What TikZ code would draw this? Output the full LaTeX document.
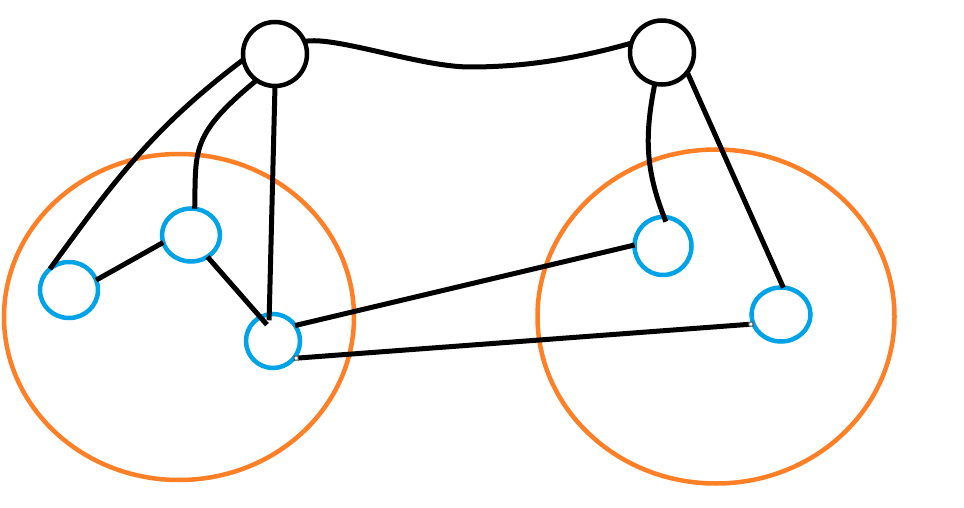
\documentclass[tikz,border=0pt]{standalone}
\usepackage{xcolor}
\usepackage{tikz}
\usetikzlibrary{arrows.meta,shapes.geometric}

\definecolor{wheelorange}{HTML}{FF7F27}
\definecolor{jointblue}{HTML}{00A2E8}

\begin{document}
\begin{tikzpicture}[
x=1pt,y=1pt,
hub/.style={draw,circle,line width=4.5pt,minimum size=64pt,inner sep=0pt,outer sep=0pt},
wheel/.style={draw=wheelorange,ellipse,line width=4.5pt,inner sep=0pt,outer sep=0pt},
joint/.style={draw=jointblue,ellipse,line width=4.5pt,inner sep=0pt,outer sep=0pt},
link/.style={line width=5pt},
handle/.style={link,{Square[length=5pt,width=5pt,line width=1pt,fill=white,color=black!70]}-{Square[length=5pt,width=5pt,line width=1pt,fill=white,color=black!70]}}
]
\useasboundingbox (0,0) rectangle (964,-508);
% wheels
\node[wheel,minimum width=350pt,minimum height=326pt] (wheelL) at (179,-317) {};
\node[wheel,minimum width=357pt,minimum height=334pt] (wheelR) at (716,-316.5) {};
% hubs and joints
\node[hub] (hubL) at (275,-54) {};
\node[hub] (hubR) at (662,-52.5) {};
\node[joint,minimum width=58pt,minimum height=56pt] (j1) at (69,-290) {};
\node[joint,minimum width=58pt,minimum height=53pt] (j2) at (191,-235) {};
\node[joint,minimum width=54pt,minimum height=54pt] (j3) at (273,-341) {};
\node[joint,minimum width=57pt,minimum height=58pt] (j4) at (663,-246) {};
\node[joint,minimum width=59pt,minimum height=54pt] (j5) at (781,-314.5) {};
% links
\draw[link] (hubL.23) .. controls +(30,6) and +(-50,0) .. (470,-67)
  .. controls +(60,0) and +(-50,-14) .. (hubR.163);
\draw[link] (hubL.190) to[out=217,in=54] (j1.132);
\draw[link] (hubL.235) .. controls (190,-135) and (196,-150) .. (j2.82);
\draw[link,shorten >=-6pt] (hubL.270) -- (j3.98);
\draw[link] (j1.20) -- (j2.195);
\draw[link,shorten >=-10pt] (j2.-53) -- (j3.118);
\draw[link] (j3.35) -- (j4.178);
\draw[handle] (j3.-40) -- (j5.199);
\draw[link,shorten >=-5pt] (hubR.257) to[out=259,in=112] (j4.88);
\draw[link] (hubR.-38) -- (j5.85);
\end{tikzpicture}
\end{document}
